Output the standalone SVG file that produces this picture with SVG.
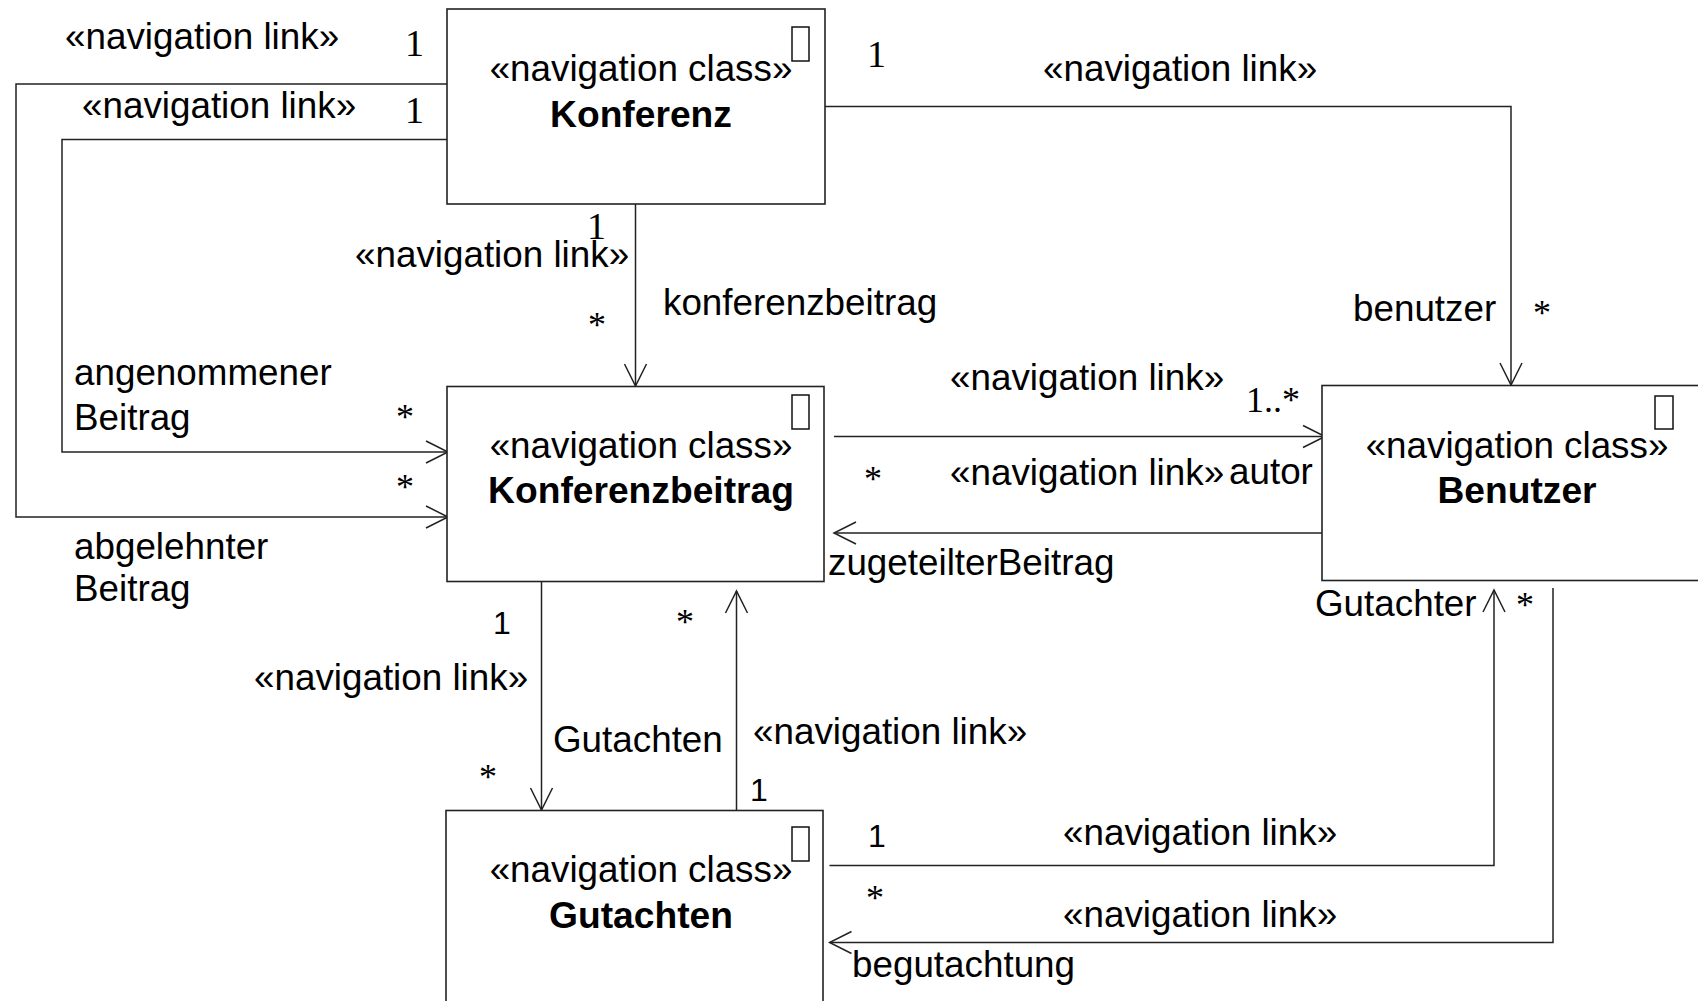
<svg xmlns="http://www.w3.org/2000/svg" width="1698" height="1001" viewBox="0 0 1698 1001">
  <defs>
    <style>
      .box { fill: #ffffff; stroke: #222222; stroke-width: 1.6; }
      .icon { fill: none; stroke: #111111; stroke-width: 1.5; }
      .line { fill: none; stroke: #222222; stroke-width: 1.5; }
      .arrow { fill: none; stroke: #222222; stroke-width: 1.5; marker-end: url(#open); }
      .t { font-family: "Liberation Sans", Arial, sans-serif; font-size: 36.8px; fill: #000000; }
      .n1 { font-family: "Liberation Sans", Arial, sans-serif; font-size: 32px; fill: #000000; }
      .name { font-family: "Liberation Sans", Arial, sans-serif; font-size: 37.2px; font-weight: bold; fill: #000000; text-anchor: middle; }
      .stereo { text-anchor: middle; }
      .m { font-family: "Liberation Serif", "Times New Roman", serif; font-size: 36px; fill: #000000; }
      .m1 { font-family: "Liberation Serif", "Times New Roman", serif; font-size: 38px; fill: #000000; }
    </style>
    <marker id="open" viewBox="-24 -13 26 26" markerWidth="26" markerHeight="26" refX="0" refY="0" orient="auto" markerUnits="userSpaceOnUse">
      <path d="M-22,-11 L0,0 L-22,11" fill="none" stroke="#222222" stroke-width="1.5"/>
    </marker>
  </defs>

  <rect width="1698" height="1001" fill="#ffffff"/>

  <!-- associations between the navigation classes -->
  <g id="connectors">
    <path class="arrow" d="M447,84 H16 V517 H448"/>
    <path class="arrow" d="M447,139.5 H62 V452 H448"/>
    <path class="arrow" d="M635.5,204 V386"/>
    <path class="arrow" d="M825,106.5 H1511 V385"/>
    <path class="arrow" d="M834,436.5 H1325"/>
    <path class="arrow" d="M1327,533 H834"/>
    <path class="arrow" d="M541.5,582 V810"/>
    <path class="arrow" d="M736.5,852 V591"/>
    <path class="arrow" d="M829.5,865.5 H1494 V590"/>
    <path class="arrow" d="M1553,588 V942.5 H829.5"/>
  </g>

  <!-- role names, stereotypes and multiplicities of the links -->
  <g id="link-labels">
    <text class="t" x="65" y="49">«navigation link»</text>
    <text class="m1" x="405" y="56">1</text>
    <text class="t" x="82" y="118">«navigation link»</text>
    <text class="m1" x="405" y="123">1</text>

    <text class="m1" x="867" y="67">1</text>
    <text class="t" x="1043" y="81">«navigation link»</text>
    <text class="t" x="1353" y="321">benutzer</text>
    <text class="m" x="1533" y="325">*</text>

    <text class="m1" x="587" y="239">1</text>
    <text class="t" x="355" y="267">«navigation link»</text>
    <text class="t" x="663" y="315">konferenzbeitrag</text>
    <text class="m" x="588" y="337">*</text>

    <text class="t" x="74" y="385">angenommener</text>
    <text class="t" x="74" y="430">Beitrag</text>
    <text class="m" x="396" y="429">*</text>
    <text class="m" x="396" y="499">*</text>
    <text class="t" x="74" y="559">abgelehnter</text>
    <text class="t" x="74" y="601">Beitrag</text>

    <text class="t" x="950" y="390">«navigation link»</text>
    <text class="m" x="1246" y="412">1..*</text>
    <text class="m" x="864" y="491">*</text>
    <text class="t" x="950" y="485">«navigation link»</text>
    <text class="t" x="1229" y="484">autor</text>
    <text class="t" x="828" y="575">zugeteilterBeitrag</text>

    <text class="t" x="1315" y="616">Gutachter</text>
    <text class="m" x="1516" y="617">*</text>

    <text class="n1" x="493" y="634">1</text>
    <text class="m" x="676" y="634">*</text>
    <text class="t" x="254" y="690">«navigation link»</text>
    <text class="t" x="553" y="752">Gutachten</text>
    <text class="t" x="753" y="744">«navigation link»</text>
    <text class="m" x="479" y="789">*</text>
    <text class="n1" x="750" y="801">1</text>

    <text class="n1" x="868" y="847">1</text>
    <text class="t" x="1063" y="845">«navigation link»</text>
    <text class="m" x="866" y="910">*</text>
    <text class="t" x="1063" y="927">«navigation link»</text>
    <text class="t" x="852" y="977">begutachtung</text>
  </g>

  <g id="node-konferenz">
    <rect class="box" x="447" y="9" width="378" height="195"/>
    <rect class="icon" x="792" y="27" width="17" height="34"/>
    <text class="t stereo" x="641" y="80.5">«navigation class»</text>
    <text class="name" x="641" y="127">Konferenz</text>
  </g>

  <g id="node-konferenzbeitrag">
    <rect class="box" x="447" y="386.5" width="377" height="195"/>
    <rect class="icon" x="792" y="395" width="17" height="34"/>
    <text class="t stereo" x="641" y="458">«navigation class»</text>
    <text class="name" x="641" y="503">Konferenzbeitrag</text>
  </g>

  <g id="node-benutzer">
    <rect class="box" x="1322" y="385.5" width="400" height="195"/>
    <rect class="icon" x="1655" y="396" width="18" height="33"/>
    <text class="t stereo" x="1517" y="458">«navigation class»</text>
    <text class="name" x="1517" y="503">Benutzer</text>
  </g>

  <g id="node-gutachten">
    <rect class="box" x="446" y="810.5" width="377" height="260"/>
    <rect class="icon" x="792" y="827" width="17" height="34"/>
    <text class="t stereo" x="641" y="882">«navigation class»</text>
    <text class="name" x="641" y="928">Gutachten</text>
  </g>
</svg>
